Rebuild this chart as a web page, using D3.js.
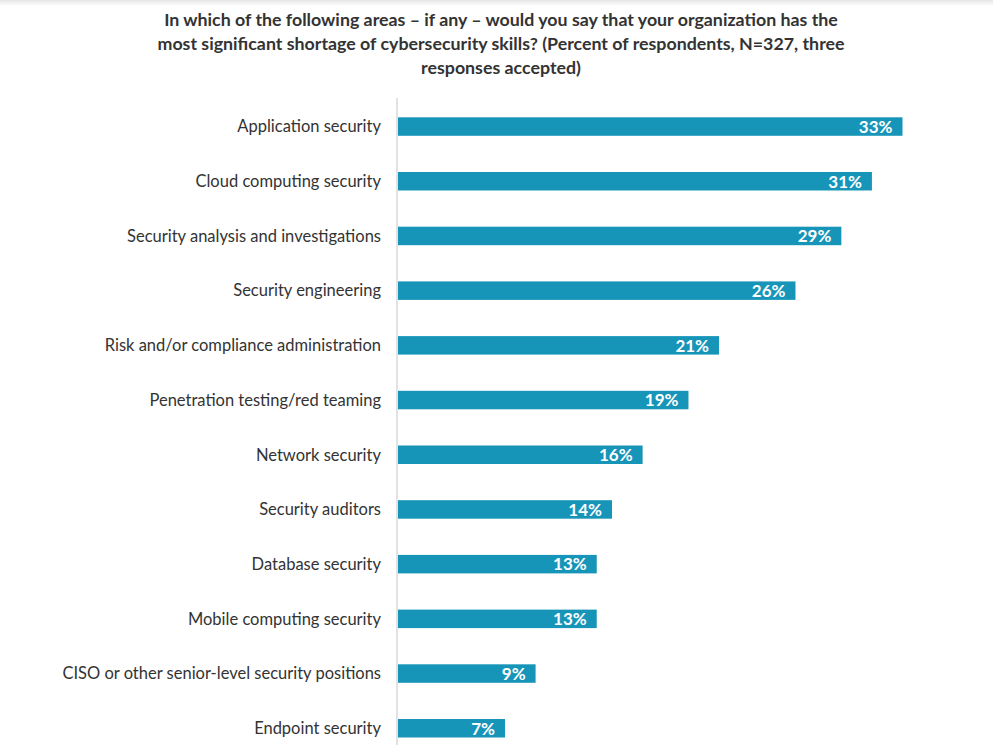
<!DOCTYPE html>
<html><head><meta charset="utf-8">
<script src="https://cdn.jsdelivr.net/npm/d3@7"></script>
<style>body{margin:0;background:#fff;} svg{display:block;}</style>
</head><body>
<svg id="chart" width="993" height="745"></svg>
<script>
const categories = ["Application security","Cloud computing security","Security analysis and investigations","Security engineering","Risk and/or compliance administration","Penetration testing/red teaming","Network security","Security auditors","Database security","Mobile computing security","CISO or other senior-level security positions","Endpoint security"];
const values = [33,31,29,26,21,19,16,14,13,13,9,7];
const titleLines = ["In which of the following areas \u2013 if any \u2013  would you say that your organization has the","most significant shortage of cybersecurity skills? (Percent of respondents, N=327, three","responses accepted)"];

const svg = d3.select("#chart");
const font = "Lato, 'Open Sans', sans-serif";

const defs = svg.append("defs");
const g0 = defs.append("linearGradient").attr("id","shadow").attr("x1",0).attr("y1",0).attr("x2",0).attr("y2",1);
g0.append("stop").attr("offset","0%").attr("stop-color","#e6e6e6");
g0.append("stop").attr("offset","100%").attr("stop-color","#ffffff");
svg.append("rect").attr("x",0).attr("y",0).attr("width",993).attr("height",6).attr("fill","url(#shadow)");

svg.append("g").selectAll("text").data(titleLines).join("text")
  .attr("x",501).attr("y",(d,i)=>26+i*24)
  .attr("text-anchor","middle").attr("font-family",font).attr("font-weight","bold")
  .attr("font-size",17.8).attr("fill","#333333").text(d=>d);

const x0 = 398;
const x = d3.scaleLinear().domain([0,33]).range([x0, 902.5]);
const y = d3.scaleBand().domain(categories).range([117.3, 737.5]).paddingInner(0.662).paddingOuter(0);

svg.append("line").attr("x1",397).attr("x2",397).attr("y1",98).attr("y2",745)
  .attr("stroke","#d9d9d9").attr("stroke-width",1.5);

svg.append("g").selectAll("rect").data(values).join("rect")
  .attr("x",x0).attr("y",(d,i)=>y(categories[i]))
  .attr("width",d=>x(d)-x0).attr("height",y.bandwidth())
  .attr("fill","#1795b9");

svg.append("g").selectAll("text").data(values).join("text")
  .attr("x",d=>x(d)-10).attr("y",(d,i)=>y(categories[i])+y.bandwidth()/2)
  .attr("dy","0.37em").attr("text-anchor","end")
  .attr("font-family",font).attr("font-weight","bold").attr("font-size",17)
  .attr("fill","#ffffff").text(d=>d+"%");

svg.append("g").selectAll("text").data(categories).join("text")
  .attr("x",381).attr("y",d=>y(d)+y.bandwidth()/2)
  .attr("dy","0.35em").attr("text-anchor","end")
  .attr("font-family",font).attr("font-size",16.5).attr("fill","#333333").text(d=>d);
</script>
</body></html>
